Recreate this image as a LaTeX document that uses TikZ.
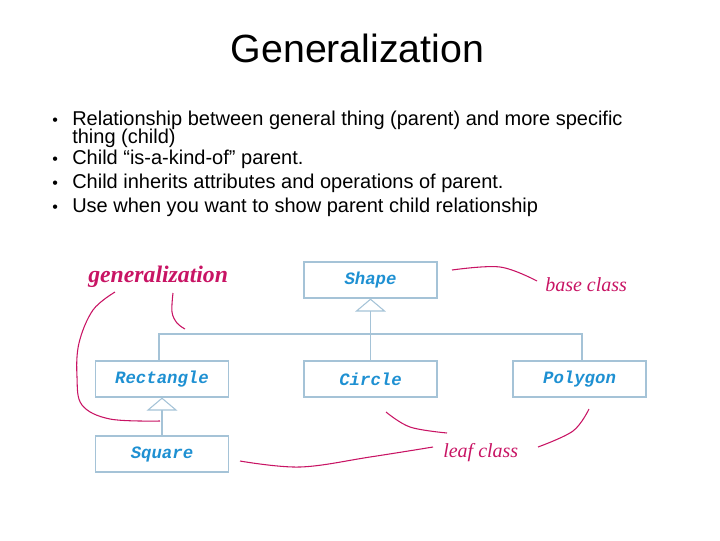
\documentclass[tikz,border=0pt]{standalone}
\usepackage{fontspec}
\setmainfont{Liberation Sans}
\newfontfamily\monof{Liberation Mono}
\newfontfamily\seriff{Liberation Serif}
\usetikzlibrary{arrows.meta}
\definecolor{boxline}{RGB}{165,195,215}
\definecolor{clsblue}{RGB}{30,144,210}
\definecolor{annot}{RGB}{200,20,100}
\tikzset{
  cls/.style={draw=boxline, line width=0.8pt, minimum width=99.75pt, minimum height=27pt, inner sep=0pt,
    font=\monof\bfseries\itshape\fontsize{13}{15}\selectfont, text=clsblue},
  gen/.style={draw=boxline, line width=0.8pt, -{Triangle[open, width=23pt, length=9.75pt]}},
  bus/.style={draw=boxline, line width=0.8pt},
  anno/.style={draw=annot, line width=0.8pt},
  bul/.style={anchor=base west, inner sep=0pt, font=\fontsize{15}{17}\selectfont},
  lbl/.style={anchor=base west, inner sep=0pt, text=annot},
}
\begin{document}
\begin{tikzpicture}[x=0.75pt,y=-0.75pt]
\useasboundingbox (0,0) rectangle (720,540);
% title
\node[anchor=base, inner sep=0pt, font=\fontsize{29.5}{34}\selectfont] (title) at (357.5,62) {Generalization};
% bullets
\node[bul, font=\fontsize{12}{14}\selectfont] (b1) at (52,125) {•};
\node[bul] (t1) at (72,125) {Relationship between general thing (parent) and more specific};
\node[bul] (t1b) at (72,143) {thing (child)};
\node[bul, font=\fontsize{12}{14}\selectfont] (b2) at (52,164) {•};
\node[bul] (t2) at (72,164) {Child “is-a-kind-of” parent.};
\node[bul, font=\fontsize{12}{14}\selectfont] (b3) at (52,188) {•};
\node[bul] (t3) at (72,188) {Child inherits attributes and operations of parent.};
\node[bul, font=\fontsize{12}{14}\selectfont] (b4) at (52,212) {•};
\node[bul] (t4) at (72,212) {Use when you want to show parent child relationship};
% classes
\node[cls] (shape) at (370.5,280) {Shape};
\node[cls] (rect) at (162,379) {Rectangle};
\node[cls] (circ) at (370.5,379) {Circle};
\node[cls] (poly) at (579.5,379) {Polygon};
\node[cls] (sq) at (162,454) {Square};
% generalization connectors
\coordinate (busl) at (159,334);
\coordinate (busr) at (582,334);
\draw[gen] (circ.north) -- (shape.south);
\draw[bus] (busl |- rect.north) -- (busl) -- (busr) -- (busr |- poly.north);
\draw[gen] (sq.north) -- (rect.south);
% annotation labels
\node[lbl, font=\seriff\bfseries\itshape\fontsize{17.8}{20}\selectfont] (lgen) at (88,282) {generalization};
\node[lbl, font=\seriff\itshape\fontsize{15}{18}\selectfont] (lbase) at (545,291) {base class};
\node[lbl, font=\seriff\itshape\fontsize{15}{18}\selectfont] (lleaf) at (443,457) {leaf class};
% annotation curves
\draw[anno] plot[smooth, tension=0.6] coordinates {(115,292) (93,310) (79,343) (77,377) (82,405) (110,419) (160,421)};
\draw[anno] plot[smooth, tension=0.6] coordinates {(173,293) (172,312) (177,323) (185,329)};
\draw[anno] plot[smooth, tension=0.6] coordinates {(452,270) (500,267) (537,281)};
\draw[anno] plot[smooth, tension=0.6] coordinates {(386,412) (410,427) (447,433)};
\draw[anno] plot[smooth, tension=0.6] coordinates {(433,447) (370,457) (300,467) (240,461)};
\draw[anno] plot[smooth, tension=0.6] coordinates {(589,409) (573,431) (538,447)};
\end{tikzpicture}
\end{document}
